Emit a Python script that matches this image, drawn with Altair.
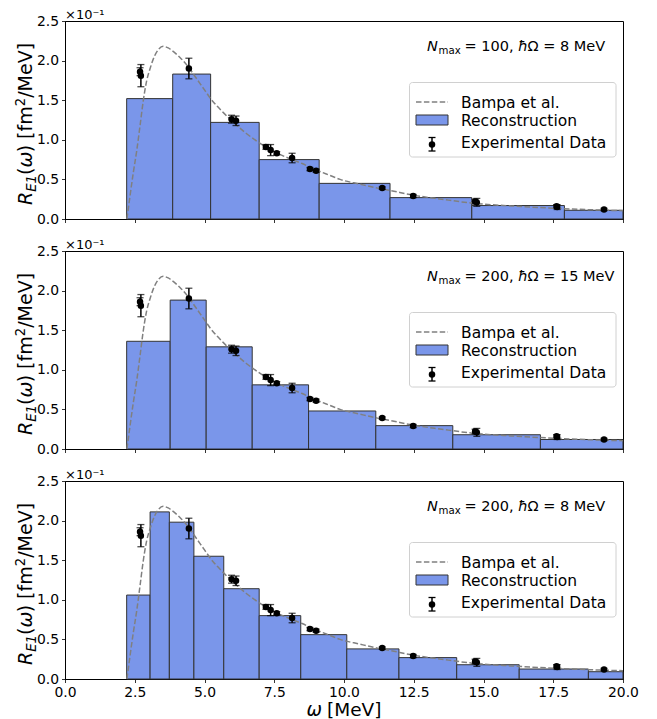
import altair as alt
import pandas as pd

# ---------------- data (R in units of 1e-1 fm^2/MeV) ----------------
edges_1 = [2.21, 3.86, 5.22, 6.96, 9.11, 11.65, 14.58, 17.90, 20.0]
heights_1 = [1.52, 1.83, 1.22, 0.75, 0.45, 0.27, 0.17, 0.11]

edges_2 = [2.21, 3.77, 5.06, 6.71, 8.73, 11.14, 13.90, 17.04, 20.0]
heights_2 = [1.36, 1.88, 1.29, 0.81, 0.48, 0.295, 0.18, 0.12]

edges_3 = [2.21, 3.05, 3.74, 4.62, 5.69, 6.96, 8.45, 10.10, 11.97, 14.04, 16.28, 18.76, 20.0]
heights_3 = [1.06, 2.11, 1.98, 1.55, 1.14, 0.80, 0.56, 0.38, 0.27, 0.18, 0.126, 0.092]

bampa_omega = [2.22, 2.33, 2.45, 2.57, 2.69, 2.80, 2.93, 3.05, 3.20, 3.35, 3.52, 3.70,
               3.90, 4.12, 4.42, 4.70, 5.00, 5.22, 5.60, 5.95, 6.50, 7.10, 7.50, 8.00,
               8.50, 9.00, 9.50, 9.86, 10.57, 11.20, 11.65, 12.50, 13.50, 14.60, 16.00,
               17.60, 19.00, 20.00]
bampa_R = [0.00, 0.29, 0.59, 0.86, 1.18, 1.48, 1.75, 1.90, 2.05, 2.14, 2.18, 2.16,
           2.11, 2.04, 1.92, 1.78, 1.63, 1.52, 1.37, 1.25, 1.08, 0.93, 0.85, 0.77,
           0.70, 0.62, 0.55, 0.50, 0.44, 0.39, 0.36, 0.30, 0.25, 0.20, 0.165,
           0.135, 0.115, 0.105]

exp_omega = [2.69, 2.72, 4.44, 5.97, 6.13, 7.20, 7.37, 7.59, 8.14, 8.78, 9.00,
             11.37, 12.48, 14.70, 14.76, 17.62, 17.64, 19.32]
exp_R = [1.86, 1.81, 1.90, 1.26, 1.24, 0.91, 0.87, 0.83, 0.77, 0.63, 0.61,
         0.39, 0.29, 0.22, 0.21, 0.16, 0.15, 0.12]
exp_err = [0.05, 0.14, 0.13, 0.05, 0.06, 0.03, 0.07, 0.02, 0.06, 0.02, 0.02,
           0.015, 0.02, 0.03, 0.05, 0.02, 0.03, 0.015]

panel_nmax = ["100", "200", "200"]
panel_hw = ["8", "15", "8"]

x_ticks = [0, 2.5, 5, 7.5, 10, 12.5, 15, 17.5, 20]
y_ticks = [0, 0.5, 1.0, 1.5, 2.0, 2.5]

legend_labels = ["Bampa et al.", "Reconstruction", "Experimental Data"]

# ---------------- styling ----------------
W, H = 558, 198
FONT = "DejaVu Sans"
BAR_FILL = "#7a96ea"
EDGE = "#333333"
DASH = [5.5, 2.4]

one = pd.DataFrame({"a": [0]})
bampa_df = pd.DataFrame({"w": bampa_omega, "r": bampa_R})
exp_df = pd.DataFrame({"w": exp_omega, "r": exp_R, "e": exp_err})
exp_df["lo"] = exp_df["r"] - exp_df["e"]
exp_df["hi"] = exp_df["r"] + exp_df["e"]


def txt(s, x, y, size, style="normal", angle=0, color="black"):
    kw = dict(align="left", baseline="alphabetic", font=FONT, fontSize=size,
              fontStyle=style, color=color)
    if angle:
        kw["angle"] = angle
    return alt.Chart(one).mark_text(**kw).encode(
        x=alt.value(x), y=alt.value(y), text=alt.value(s))


def panel(edges, heights, nmax, hw, bottom):
    xs = alt.Scale(domain=[0, 20], nice=False, zero=False)
    ys = alt.Scale(domain=[0, 2.5], nice=False)
    xa = alt.Axis(values=x_ticks, format=".1f", labels=bottom, title=None,
                  grid=False, labelFlush=False)
    ya = alt.Axis(values=y_ticks, format=".1f", title=None, grid=False)
    X = lambda f: alt.X(f, scale=xs, axis=xa)
    Y = lambda f: alt.Y(f, scale=ys, axis=ya)

    bdf = pd.DataFrame({"x0": edges[:-1], "x1": edges[1:],
                        "y0": [0.0] * len(heights), "y1": heights})
    bars = alt.Chart(bdf).mark_rect(fill=BAR_FILL, stroke=EDGE, strokeWidth=1).encode(
        x=X("x0:Q"), x2="x1", y=Y("y0:Q"), y2="y1")
    line = alt.Chart(bampa_df).mark_line(color="gray", strokeDash=DASH, strokeWidth=1.5,
                                         interpolate="monotone").encode(
        x=X("w:Q"), y=Y("r:Q"))
    err = alt.Chart(exp_df).mark_rule(color="black", strokeWidth=1.5).encode(
        x=X("w:Q"), y=Y("lo:Q"), y2="hi")
    cap_lo = alt.Chart(exp_df).mark_tick(orient="horizontal", size=7, thickness=1.3,
                                         color="black").encode(x=X("w:Q"), y=Y("lo:Q"))
    cap_hi = alt.Chart(exp_df).mark_tick(orient="horizontal", size=7, thickness=1.3,
                                         color="black").encode(x=X("w:Q"), y=Y("hi:Q"))
    pts = alt.Chart(exp_df).mark_circle(size=42, color="black", opacity=1).encode(
        x=X("w:Q"), y=Y("r:Q"))

    # legend (drawn by hand, matplotlib style)
    box = alt.Chart(one).mark_rect(fill="white", fillOpacity=0.8, stroke="#d0d0d0",
                                   strokeWidth=1, cornerRadius=3).encode(
        x=alt.value(344.5), x2=alt.value(551), y=alt.value(61.5), y2=alt.value(136))
    lg_line = alt.Chart(one).mark_rule(color="gray", strokeDash=DASH, strokeWidth=1.5).encode(
        x=alt.value(351), x2=alt.value(383), y=alt.value(81), y2=alt.value(81))
    lg_patch = alt.Chart(one).mark_rect(fill=BAR_FILL, stroke=EDGE, strokeWidth=1).encode(
        x=alt.value(351), x2=alt.value(383), y=alt.value(94), y2=alt.value(104))
    lg_err = alt.Chart(one).mark_rule(color="black", strokeWidth=1.5).encode(
        x=alt.value(367), y=alt.value(116.5), y2=alt.value(130))
    lg_c1 = alt.Chart(one).mark_rule(color="black", strokeWidth=1.3).encode(
        x=alt.value(363.5), x2=alt.value(370.5), y=alt.value(116.5), y2=alt.value(116.5))
    lg_c2 = alt.Chart(one).mark_rule(color="black", strokeWidth=1.3).encode(
        x=alt.value(363.5), x2=alt.value(370.5), y=alt.value(130), y2=alt.value(130))
    lg_pt = alt.Chart(one).mark_circle(size=42, color="black", opacity=1).encode(
        x=alt.value(367), y=alt.value(123.5))
    lg_t1 = txt(legend_labels[0], 396, 86.5, 15.5)
    lg_t2 = txt(legend_labels[1], 396, 104.5, 15.5)
    lg_t3 = txt(legend_labels[2], 396, 126.5, 15.5)

    # annotation  N_max = ..., hbar Omega = ... MeV
    an = [
        txt("N", 362, 30, 14.5, "italic"),
        txt("max", 373.5, 33, 10.2),
        txt("= " + nmax + ",", 399.5, 30, 14.5),
        txt("ħ", 453, 30, 14.5, "italic"),
        txt("Ω = " + hw + " MeV", 462.5, 30, 14.5),
    ]
    offset = txt("×10⁻¹", 0, -2, 13)

    # y-axis title pieces (rotated, reading bottom to top)
    yt = [
        txt("R", -33, 184, 19, "italic", 270),
        txt("E1", -29, 170.8, 13.3, "italic", 270),
        txt("(", -33, 153.9, 19, "normal", 270),
        txt("ω", -33, 146.5, 19, "italic", 270),
        txt(")", -33, 131.3, 19, "normal", 270),
        txt("[fm", -33, 117.9, 19, "normal", 270),
        txt("2", -40, 85.3, 13.3, "normal", 270),
        txt("/MeV]", -33, 76.8, 19, "normal", 270),
    ]
    layers = [bars, line, err, cap_lo, cap_hi, pts, box, lg_line, lg_patch, lg_err,
              lg_c1, lg_c2, lg_pt, lg_t1, lg_t2, lg_t3, offset] + an + yt
    if bottom:
        layers += [txt("ω", 241.5, H + 36.5, 18.5, "italic"),
                   txt("[MeV]", 262, H + 36.5, 18.5)]
    return alt.layer(*layers).properties(width=W, height=H)


p1 = panel(edges_1, heights_1, panel_nmax[0], panel_hw[0], False)
p2 = panel(edges_2, heights_2, panel_nmax[1], panel_hw[1], False)
p3 = panel(edges_3, heights_3, panel_nmax[2], panel_hw[2], True)

chart = alt.vconcat(p1, p2, p3, spacing=32, bounds="flush").configure_view(
    stroke="black", strokeWidth=1
).configure_axis(
    domainColor="black", domainWidth=1, tickColor="black", tickWidth=0.8, tickSize=3.5,
    labelFont=FONT, labelFontSize=13.9, labelColor="black", labelPadding=3, grid=False
).properties(padding={"left": 5, "top": 0, "right": 5, "bottom": 2})

chart.save("out.html", embed_options={"renderer": "svg", "actions": False})
